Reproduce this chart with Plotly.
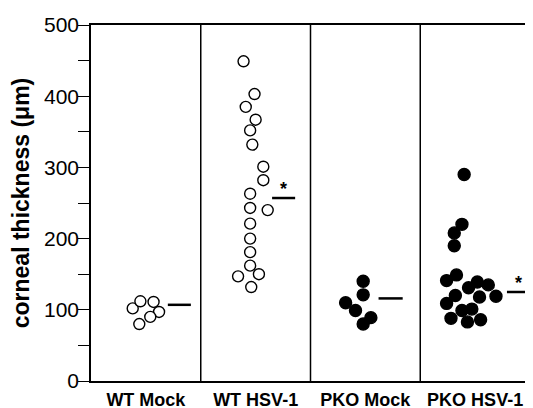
import plotly.graph_objects as go

# ---- data ----
groups = ["WT Mock", "WT HSV-1", "PKO Mock", "PKO HSV-1"]

wt_mock_vals = [102, 112, 111, 97, 90, 80]
wt_mock_jit = [-0.12, -0.05, 0.07, 0.12, 0.04, -0.06]

wt_hsv_vals = [449, 403, 385, 367, 352, 332, 301, 282, 263, 240, 243, 221, 200, 181, 162, 147, 150, 132]
wt_hsv_jit = [-0.11, -0.01, -0.09, 0.00, -0.05, -0.03, 0.07, 0.07, -0.05, 0.11, -0.05, -0.05, -0.05, -0.05, -0.05, -0.16, 0.03, -0.04]

pko_mock_vals = [140, 121, 110, 99, 89, 80]
pko_mock_jit = [-0.02, -0.02, -0.18, -0.09, 0.05, -0.02]

pko_hsv_vals = [290, 220, 208, 190, 149, 141, 139, 131, 135, 120, 118, 119, 109, 99, 101, 88, 83, 86]
pko_hsv_jit = [-0.10, -0.12, -0.19, -0.19, -0.17, -0.26, 0.02, -0.06, 0.12, -0.18, 0.04, 0.19, -0.26, -0.12, -0.03, -0.22, -0.07, 0.05]

means = [107, 257, 116, 125]
significant = [False, True, False, True]

y_ticks = [0, 100, 200, 300, 400, 500]

# ---- style/layout constants ----
mean_line_span = [(0.20, 0.41), (0.15, 0.36), (0.12, 0.34), (0.29, 0.50)]
FONT = "Liberation Sans, Arial, sans-serif"

fig = go.Figure()

series = [
    (wt_mock_vals, wt_mock_jit, False),
    (wt_hsv_vals, wt_hsv_jit, False),
    (pko_mock_vals, pko_mock_jit, True),
    (pko_hsv_vals, pko_hsv_jit, True),
]

for i, (vals, jit, filled) in enumerate(series):
    fig.add_trace(go.Scatter(
        x=[i + j for j in jit], y=vals, mode="markers",
        marker=dict(
            symbol="circle",
            size=12 if filled else 11,
            color="black" if filled else "white",
            line=dict(color="black", width=1.4),
        ),
        cliponaxis=False,
        showlegend=False,
    ))

for i, m in enumerate(means):
    a, b = mean_line_span[i]
    fig.add_trace(go.Scatter(
        x=[i + a, i + b], y=[m, m], mode="lines",
        line=dict(color="black", width=2.5), showlegend=False,
        cliponaxis=False,
    ))
    if significant[i]:
        fig.add_annotation(
            x=i + (a + b) / 2, y=m, text="*", showarrow=False,
            yshift=9, font=dict(family=FONT, size=18, color="black", weight="bold"),
        )

for k in range(1, len(groups)):
    fig.add_shape(type="line", x0=k - 0.5, x1=k - 0.5, y0=0, y1=1,
                  xref="x", yref="paper", line=dict(color="black", width=1.5))

# page body has an 8px default margin, so the figure is sized to fit inside the window
fig.update_layout(
    width=525, height=400,
    margin=dict(l=83, r=3, t=17, b=27),
    plot_bgcolor="white", paper_bgcolor="white",
    font=dict(family=FONT, color="black"),
)

fig.update_xaxes(
    range=[-0.5, len(groups) - 0.5],
    tickvals=list(range(len(groups))), ticktext=groups,
    tickfont=dict(family=FONT, size=18, weight="bold"),
    ticks="outside", ticklen=2, tickcolor="rgba(0,0,0,0)",
    showline=True, linecolor="black", linewidth=1.5, mirror=True,
    showgrid=False, zeroline=False, automargin=False,
)

fig.update_yaxes(
    range=[0, 500], tickvals=y_ticks,
    ticks="outside", ticklen=6, tickwidth=1.2, tickcolor="black",
    minor=dict(dtick=50, ticks="outside", ticklen=11, tickwidth=1.2, tickcolor="black", showgrid=False),
    tickfont=dict(family=FONT, size=21),
    showline=True, linecolor="black", linewidth=1.5, mirror=False,
    showgrid=False, zeroline=False, automargin=False,
    title=dict(text="corneal thickness (μm)", font=dict(family=FONT, size=23, weight="bold"), standoff=12),
)

fig.write_html("out.html")
